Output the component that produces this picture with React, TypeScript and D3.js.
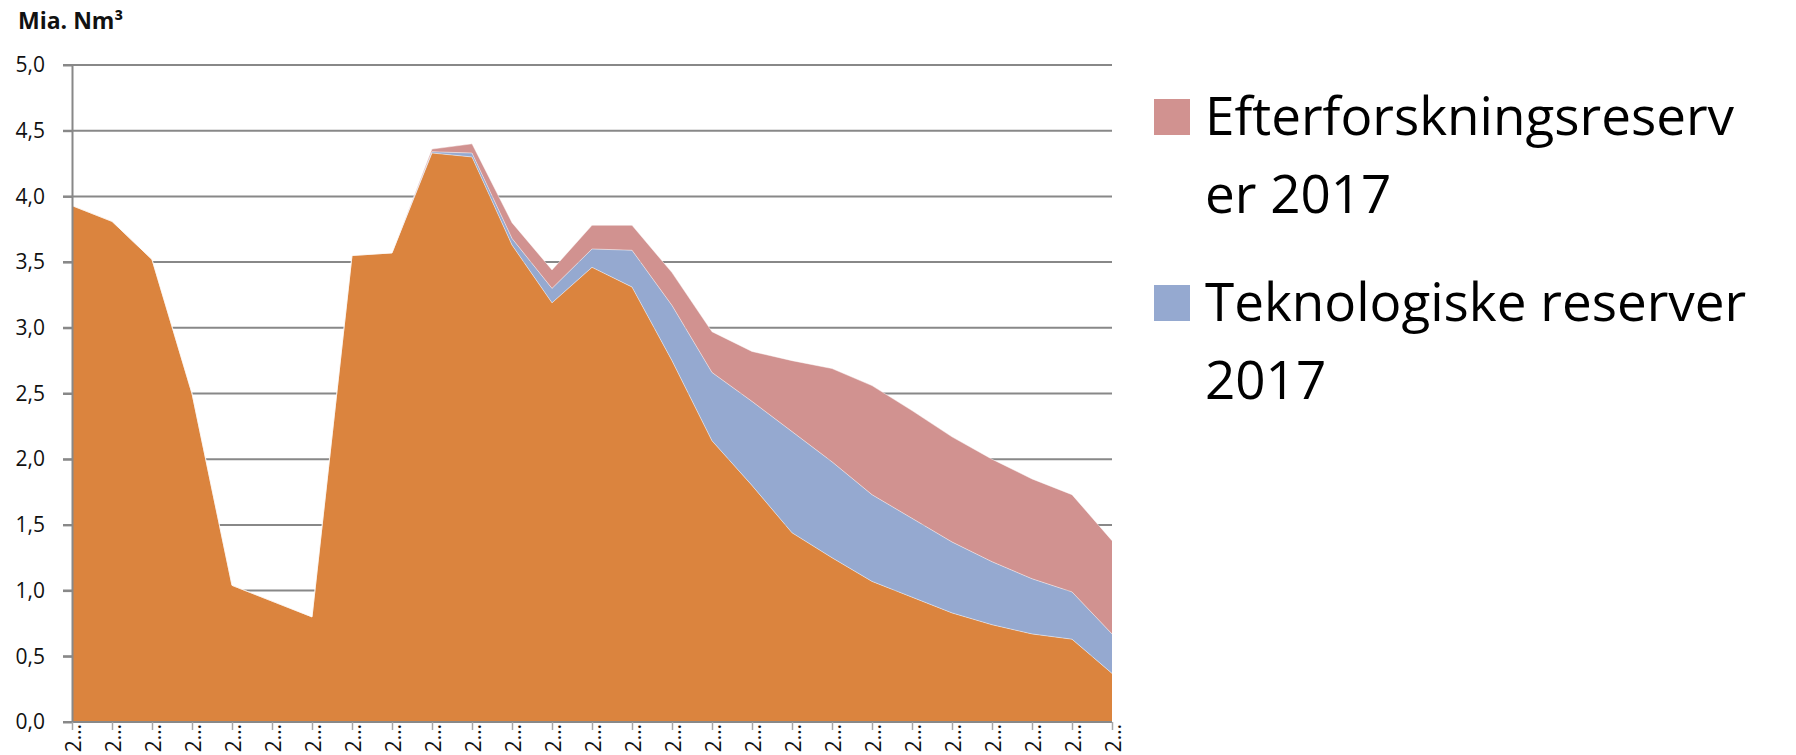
import { useEffect, useRef } from 'react';
import * as d3 from 'd3';

// categories (year labels are truncated to "2…" in the original)
const years = [
  2016, 2017, 2018, 2019, 2020, 2021, 2022, 2023, 2024, 2025, 2026, 2027, 2028, 2029,
  2030, 2031, 2032, 2033, 2034, 2035, 2036, 2037, 2038, 2039, 2040, 2041, 2042,
];

// Mia. Nm3, stacked from the bottom
const produktion = [
  3.93, 3.81, 3.52, 2.50, 1.04, 0.92, 0.80, 3.55, 3.57, 4.33, 4.30, 3.63, 3.19, 3.46,
  3.31, 2.75, 2.14, 1.80, 1.44, 1.25, 1.07, 0.95, 0.83, 0.74, 0.67, 0.63, 0.37,
];
const teknologiske = [
  0, 0, 0, 0, 0, 0, 0, 0, 0, 0.01, 0.03, 0.05, 0.11, 0.14,
  0.28, 0.42, 0.52, 0.64, 0.77, 0.73, 0.66, 0.60, 0.54, 0.48, 0.42, 0.36, 0.30,
];
const efterforskning = [
  0, 0, 0, 0, 0, 0, 0, 0, 0, 0.02, 0.07, 0.12, 0.14, 0.18,
  0.19, 0.25, 0.31, 0.38, 0.54, 0.71, 0.83, 0.82, 0.80, 0.78, 0.76, 0.74, 0.71,
];

const yTicks = [0, 0.5, 1, 1.5, 2, 2.5, 3, 3.5, 4, 4.5, 5];

const seriesKeys = ['produktion', 'teknologiske', 'efterforskning'];
const seriesColors = {
  produktion: '#DB843E',
  teknologiske: '#95A9D0',
  efterforskning: '#D19290',
};

const legendItems = [
  { key: 'efterforskning', lines: ['Efterforskningsreserv', 'er 2017'] },
  { key: 'teknologiske', lines: ['Teknologiske reserver', '2017'] },
];

const font = '"Open Sans", "Noto Sans", sans-serif';

const App = () => {
  const svgRef = useRef<SVGSVGElement>(null);

  useEffect(() => {
    if (!svgRef.current) return;
    const svg = d3.select(svgRef.current);
    svg.selectAll('*').remove();

    const width = 1796;
    const height = 755;
    const left = 72;
    const right = 1112;
    const top = 65;
    const bottom = 722;
    const gridColor = '#888888';

    const x = d3.scalePoint<number>().domain(years).range([left, right]);
    const y = d3.scaleLinear().domain([0, 5]).range([bottom, top]);

    const table = years.map((year, i) => ({
      year,
      produktion: produktion[i],
      teknologiske: teknologiske[i],
      efterforskning: efterforskning[i],
    }));
    const stacked = d3.stack<any>().keys(seriesKeys)(table);

    svg.attr('width', width).attr('height', height).attr('viewBox', [0, 0, width, height]);

    // Gridlines behind the areas
    svg.append('g')
      .selectAll('line')
      .data(yTicks.filter(d => d > 0))
      .join('line')
        .attr('x1', left - 9)
        .attr('x2', right)
        .attr('y1', d => y(d))
        .attr('y2', d => y(d))
        .attr('stroke', gridColor)
        .attr('stroke-width', 2);

    const area = d3.area<any>()
      .x(d => x(d.data.year)!)
      .y0(d => y(d[0]))
      .y1(d => y(d[1]));

    const topLine = d3.line<any>()
      .x(d => x(d.data.year)!)
      .y(d => y(d[1]));

    const layers = svg.append('g');
    layers.selectAll('path.area')
      .data(stacked)
      .join('path')
        .attr('class', 'area')
        .attr('fill', d => seriesColors[d.key])
        .attr('d', area);

    layers.selectAll('path.edge')
      .data(stacked)
      .join('path')
        .attr('class', 'edge')
        .attr('fill', 'none')
        .attr('stroke', '#ffffff')
        .attr('stroke-opacity', 0.45)
        .attr('stroke-width', 1)
        .attr('d', topLine);

    // Y axis
    svg.append('g')
      .attr('transform', `translate(${left},0)`)
      .call(d3.axisLeft(y)
        .tickValues(yTicks)
        .tickSize(9)
        .tickSizeOuter(0)
        .tickPadding(18)
        .tickFormat(d => d3.format('.1f')(d as number).replace('.', ',')))
      .call(g => g.select('.domain').attr('stroke', gridColor).attr('stroke-width', 2))
      .call(g => g.selectAll('.tick line').attr('stroke', gridColor).attr('stroke-width', 2))
      .call(g => g.selectAll('.tick text')
        .attr('fill', '#111')
        .attr('font-family', font)
        .attr('font-size', 21));

    // X axis
    svg.append('g')
      .attr('transform', `translate(0,${bottom})`)
      .call(d3.axisBottom(x)
        .tickSize(8)
        .tickSizeOuter(0)
        .tickFormat(d => String(d).slice(0, 1) + '…'))
      .call(g => g.select('.domain')
        .attr('d', `M${left - 9},0H${right}`)
        .attr('stroke', gridColor)
        .attr('stroke-width', 2))
      .call(g => g.selectAll('.tick line').attr('stroke', '#a6a6a6').attr('stroke-width', 1.5))
      .call(g => g.selectAll('.tick text')
        .attr('transform', 'rotate(-90)')
        .attr('text-anchor', 'end')
        .attr('x', -2)
        .attr('y', 8)
        .attr('dy', 0)
        .attr('fill', '#111')
        .attr('font-family', font)
        .attr('font-size', 21));

    // Unit title
    svg.append('text')
      .attr('x', 18)
      .attr('y', 29)
      .attr('font-family', font)
      .attr('font-weight', 'bold')
      .attr('font-size', 23)
      .attr('fill', '#111')
      .text('Mia. Nm³');

    // Legend
    const legend = svg.append('g').attr('transform', 'translate(1154,0)');
    const item = legend.selectAll('g')
      .data(legendItems)
      .join('g')
        .attr('transform', (d, i) => `translate(0,${135 + i * 186})`);

    item.append('rect')
      .attr('x', 0)
      .attr('y', -36)
      .attr('width', 36)
      .attr('height', 36)
      .attr('fill', d => seriesColors[d.key]);

    item.append('text')
      .attr('font-family', font)
      .attr('font-size', 53)
      .attr('fill', '#000')
      .selectAll('tspan')
      .data(d => d.lines)
      .join('tspan')
        .attr('x', 51)
        .attr('y', (d, i) => i * 78)
        .text(d => d);
  }, []);

  return (
    <div style={{ position: 'absolute', left: 0, top: 0, width: 1796, height: 755, overflow: 'hidden', background: '#fff' }}>
      <svg ref={svgRef} style={{ display: 'block' }} />
    </div>
  );
};

export default App;
